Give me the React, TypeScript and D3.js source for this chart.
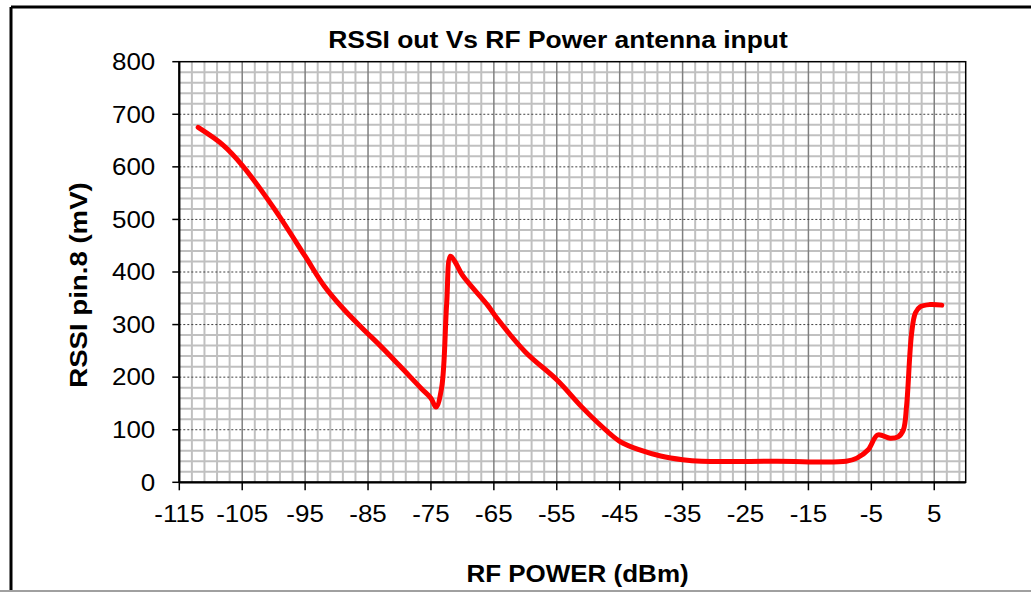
import React from "react";
import * as d3 from "d3";

const title = "RSSI out Vs RF Power antenna input";
const xLabel = "RF POWER (dBm)";
const yLabel = "RSSI pin.8 (mV)";

const xTicks = [-115, -105, -95, -85, -75, -65, -55, -45, -35, -25, -15, -5, 5];
const yTicks = [0, 100, 200, 300, 400, 500, 600, 700, 800];

const rfPower = [
  -112, -108, -105, -100, -95, -92, -89, -86, -83, -80, -76.5, -75, -74.2, -73.3, -72.5, -71.9,
  -71.2, -70, -66, -64.5, -60, -55, -51, -48, -45, -41.7, -38.5, -35, -32, -20, -9, -7.3, -5.5,
  -4, -2, -0.7, 0.1, 0.6, 1.4, 2, 2.8, 4.3, 6.2,
];
const rssi = [
  675, 641, 603, 522, 430, 374, 331, 294, 259, 222, 178, 160, 143, 180, 340, 430,
  420, 394, 337, 312, 248, 195, 143, 108, 78, 61, 50, 43, 40, 40, 40, 46, 62,
  90, 84, 87, 100, 145, 283, 322, 334, 338, 337,
];

const W = 1031;
const H = 592;
const FONT = "'Liberation Sans', Arial, Helvetica, sans-serif";
const SX = 1.13;

export default function App() {
  const x = d3.scaleLinear().domain([-115, 10]).range([179.3, 965.7]);
  const y = d3.scaleLinear().domain([0, 800]).range([482.3, 61.7]);

  const minorX = d3.range(-113, 10.01, 2).filter((v) => (v + 115) % 10 !== 0);
  const majorX = d3.range(-105, 10, 10);
  const minorY = d3.range(20, 800, 20).filter((v) => v % 100 !== 0);
  const majorY = d3.range(100, 800, 100);

  const pts: [number, number][] = rfPower.map((p, i) => [p, rssi[i]]);
  const line = d3
    .line<[number, number]>()
    .x((d) => x(d[0]))
    .y((d) => y(d[1]))
    .curve(d3.curveCatmullRom.alpha(0.5));

  const [x0, x1] = x.range();
  const [y0, y1] = y.range();

  return (
    <svg
      width={W}
      height={H}
      style={{ position: "absolute", left: 0, top: 0, display: "block", background: "#fff" }}
      fontFamily={FONT}
    >
      <rect x={0} y={0} width={W} height={H} fill="#fff" />
      {/* outer frame */}
      <line x1={11} y1={7} x2={W} y2={7} stroke="#000" strokeWidth={3} />
      <line x1={11} y1={7} x2={11} y2={H} stroke="#000" strokeWidth={3} />
      <line x1={0} y1={591} x2={W} y2={591} stroke="#a0a0a0" strokeWidth={2} />

      {/* minor grid */}
      {minorX.map((v) => (
        <line key={"mx" + v} x1={x(v)} x2={x(v)} y1={y1} y2={y0} stroke="#c0c0c0" strokeWidth={2} />
      ))}
      {minorY.map((v) => (
        <line key={"my" + v} x1={x0} x2={x1} y1={y(v)} y2={y(v)} stroke="#c0c0c0" strokeWidth={2} />
      ))}
      {majorX.map((v) => (
        <line key={"Mx" + v} x1={x(v)} x2={x(v)} y1={y1} y2={y0} stroke="#808080" strokeWidth={1.5} />
      ))}
      {majorY.map((v) => (
        <line
          key={"My" + v}
          x1={x0}
          x2={x1}
          y1={y(v)}
          y2={y(v)}
          stroke="#404040"
          strokeWidth={1}
          strokeDasharray="2,2"
        />
      ))}

      {/* plot border */}
      <rect x={x0} y={y1} width={x1 - x0} height={y0 - y1} fill="none" stroke="#000" strokeWidth={1.5} />
      <line x1={x0} x2={x0} y1={y1} y2={y0} stroke="#000" strokeWidth={2.2} />
      <line x1={x0} x2={x1} y1={y0} y2={y0} stroke="#000" strokeWidth={2.2} />

      {/* ticks */}
      {yTicks.map((v) => (
        <g key={"yt" + v}>
          <line x1={x0 - 7} x2={x0} y1={y(v)} y2={y(v)} stroke="#000" strokeWidth={1.5} />
          <text
            transform={`translate(${x0 - 24},${y(v) + 8.3}) scale(${SX},1)`}
            textAnchor="end"
            fontSize={23}
            fill="#000"
          >
            {v}
          </text>
        </g>
      ))}
      {xTicks.map((v) => (
        <g key={"xt" + v}>
          <line x1={x(v)} x2={x(v)} y1={y0} y2={y0 + 8} stroke="#000" strokeWidth={1.5} />
          <text
            transform={`translate(${x(v)},${522.3}) scale(${SX},1)`}
            textAnchor="middle"
            fontSize={23}
            fill="#000"
          >
            {v}
          </text>
        </g>
      ))}

      {/* series */}
      <path d={line(pts) || ""} fill="none" stroke="#ff0000" strokeWidth={5} strokeLinejoin="round" strokeLinecap="round" />

      {/* titles */}
      <text
        transform={`translate(558,48) scale(1.15,1)`}
        textAnchor="middle"
        fontSize={23}
        fontWeight="bold"
        fill="#000"
      >
        {title}
      </text>
      <text
        transform={`translate(577.5,581.5) scale(${SX},1)`}
        textAnchor="middle"
        fontSize={23}
        fontWeight="bold"
        fill="#000"
      >
        {xLabel}
      </text>
      <text
        transform={`translate(86.5,285) rotate(-90) scale(1.15,1)`}
        textAnchor="middle"
        fontSize={24}
        fontWeight="bold"
        fill="#000"
      >
        {yLabel}
      </text>
    </svg>
  );
}
